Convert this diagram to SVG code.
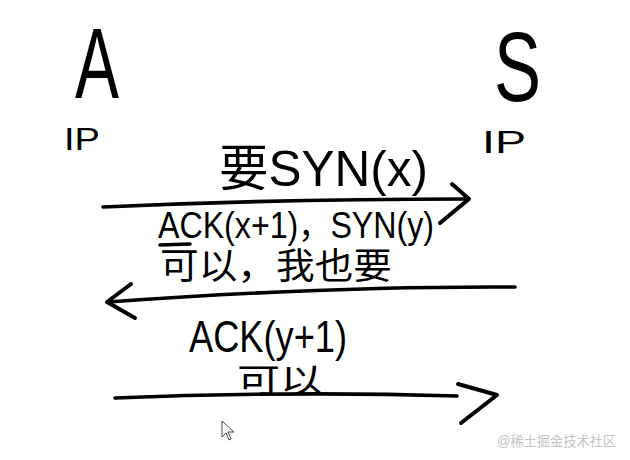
<svg xmlns="http://www.w3.org/2000/svg" width="630" height="460" viewBox="0 0 630 460">
  <style>
    .bg { fill: #ffffff; }
    .hand { font-family: "Liberation Sans", "Noto Sans CJK SC", sans-serif; fill: #000; }
    .line { fill: none; stroke: #000; stroke-width: 3.6; stroke-linecap: round; stroke-linejoin: round; }
    .head { fill: none; stroke: #000; stroke-width: 4; stroke-linecap: round; stroke-linejoin: round; }
    .wm { font-family: "Liberation Sans", "Noto Sans CJK SC", sans-serif; fill: #c4c4c4; font-size: 14px; }
  </style>
  <rect class="bg" x="0" y="0" width="630" height="460"/>

  <g id="node-A">
    <text class="hand" x="75" y="98" font-size="100" textLength="44" lengthAdjust="spacingAndGlyphs">A</text>
    <text class="hand" x="64" y="150" font-size="32" textLength="36" lengthAdjust="spacingAndGlyphs">IP</text>
  </g>

  <g id="node-S">
    <text class="hand" x="494" y="101" font-size="98" textLength="47" lengthAdjust="spacingAndGlyphs">S</text>
    <text class="hand" x="482" y="153" font-size="32" textLength="44" lengthAdjust="spacingAndGlyphs">IP</text>
  </g>

  <g id="connectors">
    <g id="edge-syn">
      <path class="line" d="M103,207 Q280,199 466,199"/>
      <path class="head" d="M452,184 L469,199 L440,223"/>
    </g>
    <g id="edge-synack">
      <path class="line" d="M515,287 Q330,286 108,302"/>
      <path class="head" d="M131,284 L107,302 L135,318"/>
    </g>
    <g id="edge-ack">
      <path class="line" d="M115,398 Q290,391 457,396"/>
      <path class="head" d="M458,384 L497,395 L461,423"/>
    </g>
  </g>

  <g id="labels">
    <text class="hand" x="219" y="186" font-size="50" textLength="209" lengthAdjust="spacingAndGlyphs">要SYN(x)</text>
    <text class="hand" x="158" y="238" font-size="36" textLength="276" lengthAdjust="spacingAndGlyphs">ACK(x+1)，SYN(y)</text>
    <path class="line" d="M160,245 L190,244"/>
    <text class="hand" x="160" y="279" font-size="36" textLength="232" lengthAdjust="spacingAndGlyphs">可以，我也要</text>
    <text class="hand" x="189" y="352" font-size="44" textLength="158" lengthAdjust="spacingAndGlyphs">ACK(y+1)</text>
    <text class="hand" x="237" y="392" font-size="33" textLength="86" lengthAdjust="spacingAndGlyphs">可以</text>
  </g>

  <path id="cursor" d="M222,421 L222,437 L226,433 L229,440 L231,439 L228,432 L234,432 Z" fill="#fff" stroke="#444" stroke-width="1" stroke-linejoin="round"/>

  <text class="wm" x="497" y="446" textLength="119" lengthAdjust="spacingAndGlyphs">@稀土掘金技术社区</text>
</svg>
